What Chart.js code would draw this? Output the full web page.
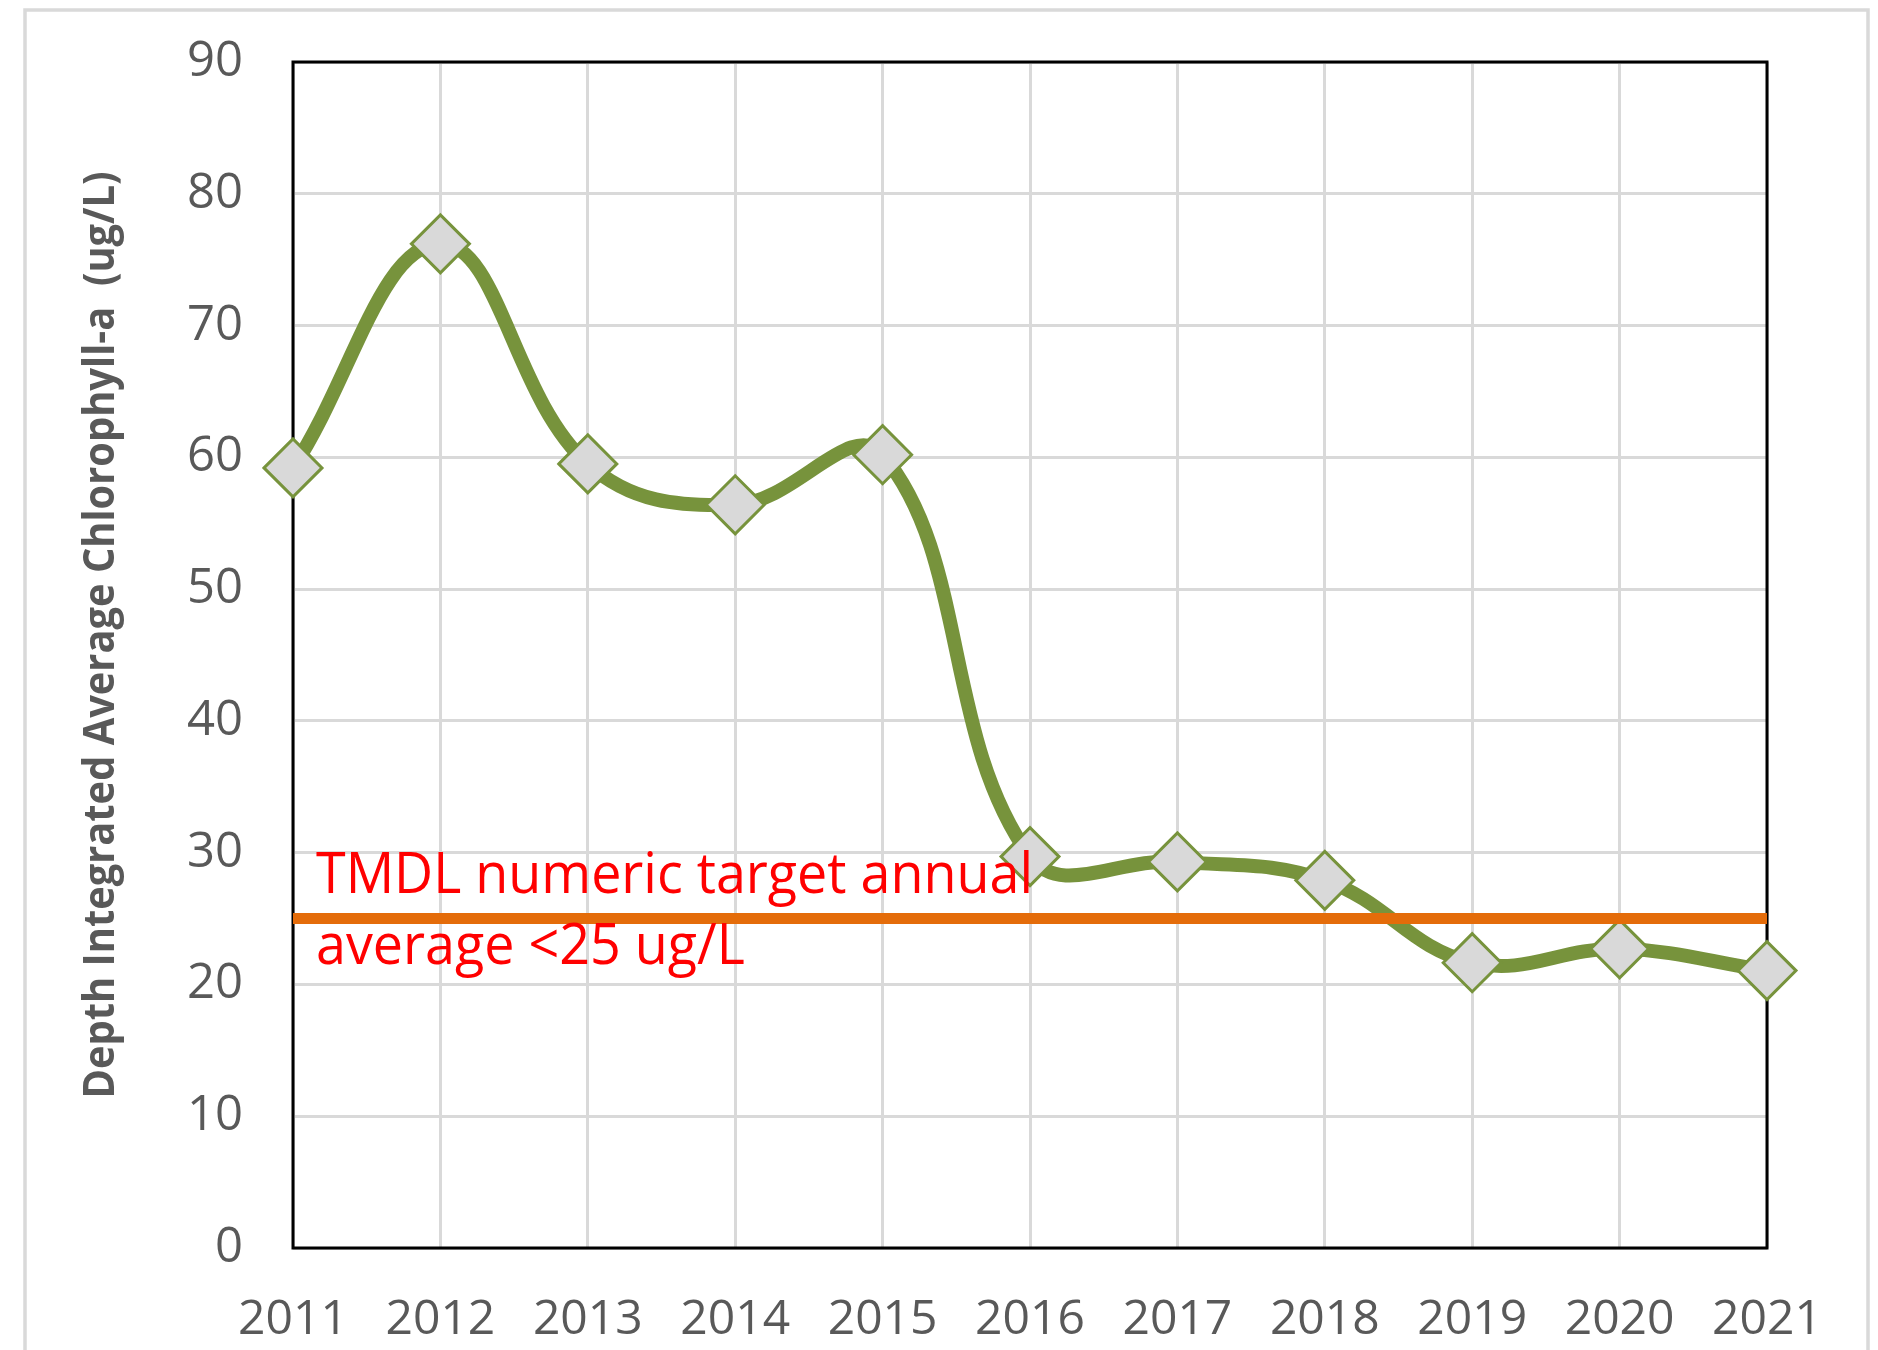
<!DOCTYPE html>
<html>
<head>
<meta charset="utf-8">
<script src="https://cdn.jsdelivr.net/npm/chart.js@4/dist/chart.umd.min.js"></script>
<style>
html,body{margin:0;padding:0;background:#ffffff;}
canvas{display:block;}
</style>
</head>
<body>
<canvas id="c" width="1878" height="1350"></canvas>
<script>
// ---- data ----
const years = ['2011','2012','2013','2014','2015','2016','2017','2018','2019','2020','2021'];
const chlorophyll = [59.2, 76.2, 59.5, 56.4, 60.2, 29.7, 29.3, 27.9, 21.65, 22.7, 21.05];
const tmdlTarget = [25, 25, 25, 25, 25, 25, 25, 25, 25, 25, 25];
const yTickValues = [0, 10, 20, 30, 40, 50, 60, 70, 80, 90];
const yAxisTitle = 'Depth Integrated Average Chlorophyll-a  (ug/L)';
const annotationLines = ['TMDL numeric target annual', 'average <25 ug/L'];

// ---- styles ----
const GREEN = '#77933C';
const ORANGE = '#E46C0A';
const GRID = '#D9D9D9';
const TEXT = '#595959';

function drawScaledText(ctx, text, x, y, font, color, sx, align, baseline) {
  ctx.save();
  ctx.font = font;
  ctx.fillStyle = color;
  ctx.textAlign = align;
  ctx.textBaseline = baseline;
  ctx.translate(x, y);
  ctx.scale(sx, 1);
  ctx.fillText(text, 0, 0);
  ctx.restore();
}

const framePlugin = {
  id: 'frame',
  beforeDraw(chart) {
    const ctx = chart.ctx;
    ctx.save();
    ctx.fillStyle = '#ffffff';
    ctx.fillRect(0, 0, chart.width, chart.height);
    ctx.strokeStyle = GRID;
    ctx.lineWidth = 3.5;
    ctx.strokeRect(25, 10, 1843, 1400);
    ctx.restore();
  },
  beforeDatasetsDraw(chart) {
    const ctx = chart.ctx;
    const a = chart.chartArea;
    ctx.save();
    ctx.strokeStyle = '#000000';
    ctx.lineWidth = 3;
    ctx.strokeRect(a.left, a.top, a.right - a.left, a.bottom - a.top);
    ctx.restore();
  },
  afterDraw(chart) {
    const ctx = chart.ctx;
    const a = chart.chartArea;
    // y-axis title (rotated)
    ctx.save();
    ctx.font = 'bold 43px "Open Sans"';
    const tw = ctx.measureText(yAxisTitle).width;
    const sTitle = 927 / tw;
    ctx.translate(102, 635);
    ctx.rotate(-Math.PI / 2);
    ctx.scale(sTitle, 1);
    ctx.fillStyle = TEXT;
    ctx.textAlign = 'center';
    ctx.textBaseline = 'middle';
    ctx.fillText(yAxisTitle, 0, 0);
    ctx.restore();

    // annotation in red
    ctx.save();
    const font = '56px "Open Sans"';
    ctx.font = font;
    const w1 = ctx.measureText(annotationLines[0]).width;
    const sx = 717 / w1;
    ctx.restore();
    const base1 = 893, base2 = 964;
    drawScaledText(ctx, annotationLines[0], a.left + 23, base1, font, '#FF0000', sx, 'left', 'alphabetic');
    drawScaledText(ctx, annotationLines[1], a.left + 23, base2, font, '#FF0000', sx, 'left', 'alphabetic');
  }
};

const ctx = document.getElementById('c').getContext('2d');
new Chart(ctx, {
  type: 'line',
  data: {
    labels: years,
    datasets: [
      {
        label: 'TMDL target',
        data: tmdlTarget,
        borderColor: ORANGE,
        borderWidth: 11,
        pointRadius: 0,
        tension: 0,
        order: 0,
        clip: false
      },
      {
        label: 'Chlorophyll-a',
        data: chlorophyll,
        borderColor: GREEN,
        borderWidth: 14,
        borderJoinStyle: 'round',
        borderCapStyle: 'round',
        tension: 0.4,
        pointStyle: 'rectRot',
        pointRadius: 29,
        pointBackgroundColor: '#D9D9D9',
        pointBorderColor: GREEN,
        pointBorderWidth: 3,
        order: 1,
        clip: false
      }
    ]
  },
  options: {
    responsive: false,
    animation: false,
    devicePixelRatio: 1,
    layout: { autoPadding: false, padding: { top: 62, right: 111, left: 0, bottom: 0 } },
    plugins: {
      legend: { display: false },
      tooltip: { enabled: false },
      title: { display: false }
    },
    scales: {
      x: {
        type: 'category',
        offset: false,
        grid: { color: GRID, lineWidth: 3, drawTicks: false },
        border: { display: false },
        ticks: {
          color: TEXT,
          font: { family: 'Open Sans', size: 48 },
          padding: 44,
          maxRotation: 0,
          autoSkip: false
        },
        afterFit(s) { s.height = 102; }
      },
      y: {
        min: 0,
        max: 90,
        afterBuildTicks(s) { s.ticks = yTickValues.map(v => ({ value: v })); },
        grid: { color: GRID, lineWidth: 3, drawTicks: false },
        border: { display: false },
        ticks: {
          color: TEXT,
          font: { family: 'Open Sans', size: 49 },
          padding: 50
        },
        afterFit(s) { s.width = 293; s.paddingTop = 0; s.paddingBottom = 0; }
      }
    }
  },
  plugins: [framePlugin]
});
</script>
</body>
</html>
